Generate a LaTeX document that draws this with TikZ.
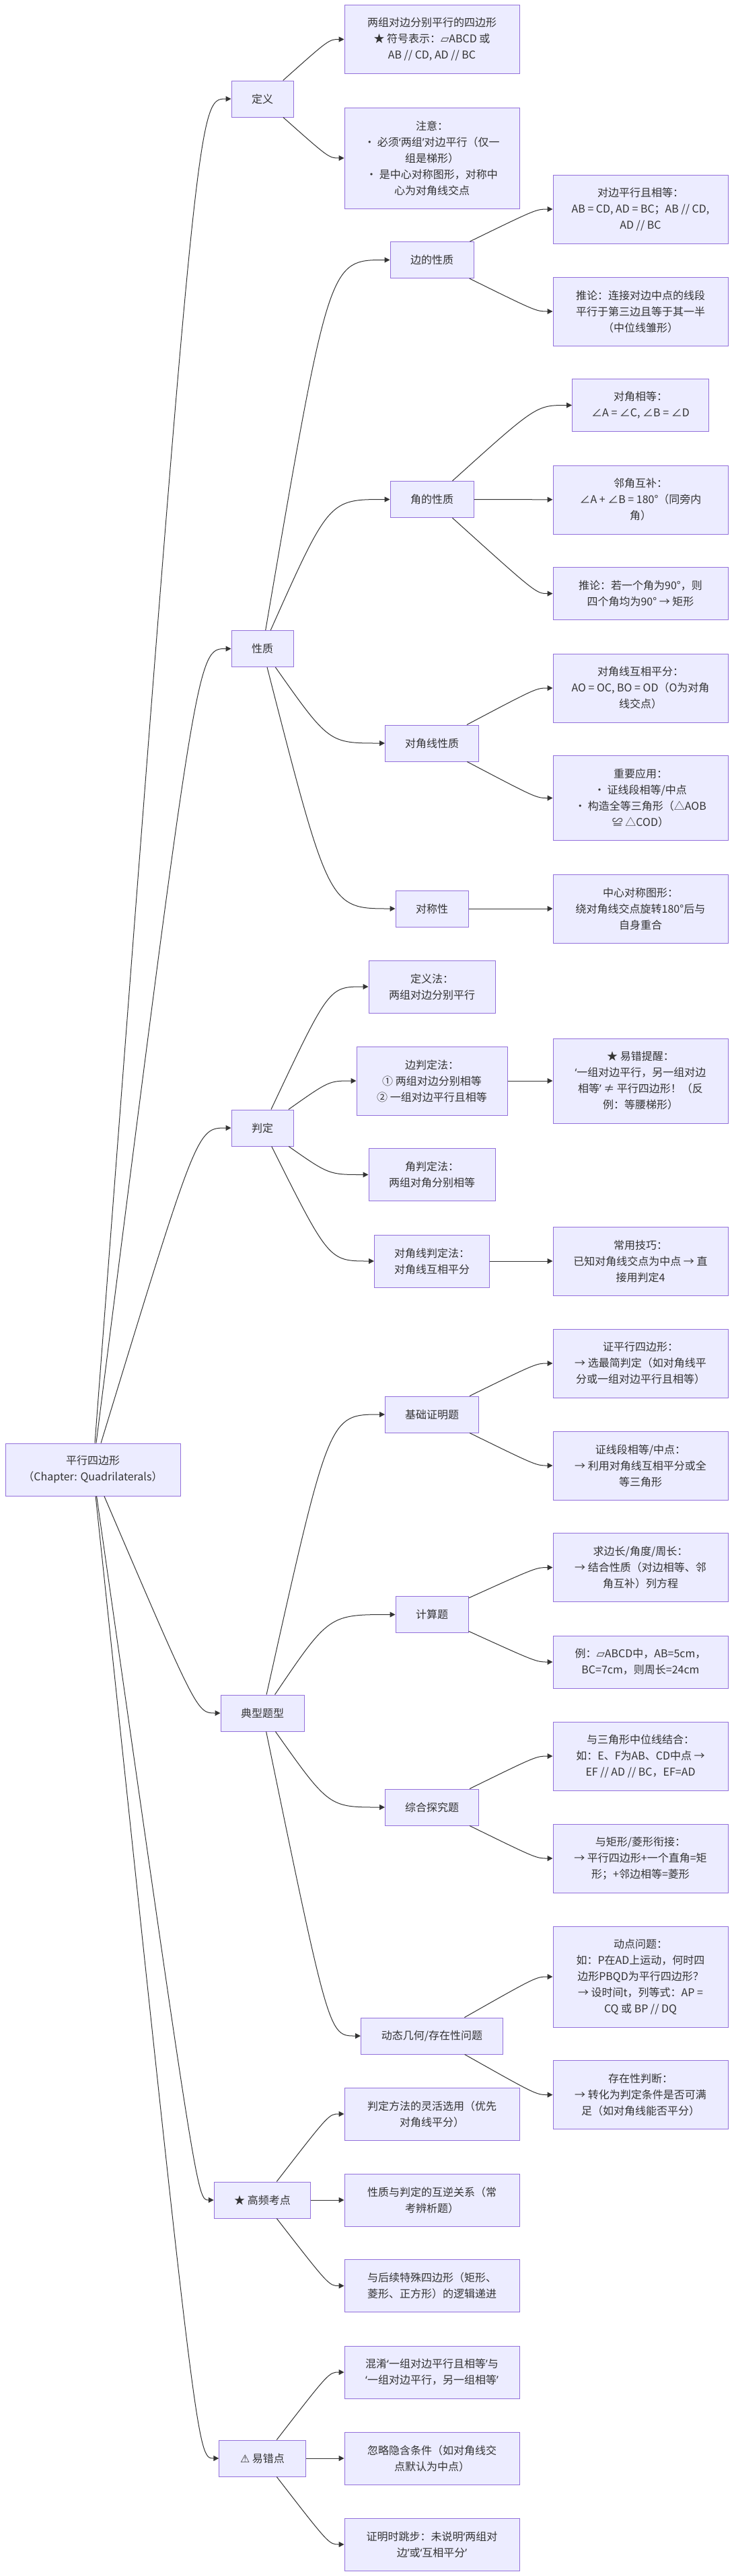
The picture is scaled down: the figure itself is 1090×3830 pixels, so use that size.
\documentclass[tikz,border=0pt]{standalone}
\usepackage{fontspec}
\setmainfont{Noto Sans CJK SC}
\newfontfamily\symfont{DejaVu Sans}
\newfontfamily\quotefont{Noto Sans}
\newcommand{\openq}{{\quotefont ‘}}
\newcommand{\closeq}{{\quotefont ’}}
\usetikzlibrary{arrows.meta}
\definecolor{boxfill}{HTML}{ECECFF}
\definecolor{boxline}{HTML}{9370DB}
\definecolor{linkgray}{HTML}{333333}

\begin{document}
\begin{tikzpicture}[x=1pt, y=-1pt,
block/.style={draw=boxline, fill=boxfill, line width=1pt, text=linkgray, align=center, inner xsep=15pt, inner ysep=0pt, minimum height=54pt, font=\fontsize{16}{24}\selectfont},
wide/.style={block, minimum width=260pt},
nlines/.style={minimum height=#1*24pt+30pt},
link/.style={draw=linkgray, line width=1pt, -{Triangle[length=8pt, width=8pt]}}]

% SIZE OF THE PICTURE
\fill[white] (0,0) rectangle (1090,3830);
% COLUMNS WHERE THE LINKS BEND
\coordinate (g0) at (293,0);
\coordinate (g1) at (489,0);
\coordinate (g2) at (797,0);

%%%%%%%%% ROOT %%%%%%%%%%%%%
\node[block, minimum width=260pt, nlines=2] (root) at (138,2185) {平行四边形\\（Chapter: Quadrilaterals）};

%%%%%%%%% DEFINITION %%%%%%%%%%%%%
\node[block, minimum width=92pt] (def) at (390,147) {定义};
\node[wide, nlines=3] (def1) at (642,58.5) {两组对边分别平行的四边形\\★ 符号表示：{\symfont ▱}ABCD 或\\AB // CD, AD // BC};
\node[wide, nlines=5] (def2) at (642,235) {注意：\\• 必须\openq 两组\closeq 对边平行（仅一\\组是梯形）\\• 是中心对称图形，对称中\\心为对角线交点};

%%%%%%%%% PROPERTIES %%%%%%%%%%%%%
\node[block, minimum width=92pt] (prop) at (390,964.5) {性质};
\node[block, minimum width=124pt] (side) at (642,386.5) {边的性质};
\node[wide, nlines=3] (side1) at (952,311) {对边平行且相等：\\AB = CD, AD = BC；AB // CD,\\AD // BC};
\node[wide, nlines=3] (side2) at (952,463) {推论：连接对边中点的线段\\平行于第三边且等于其一半\\（中位线雏形）};
\node[block, minimum width=124pt] (ang) at (642,742.5) {角的性质};
\node[block, minimum width=203pt, nlines=2] (ang1) at (952,602.5) {对角相等：\\∠A = ∠C, ∠B = ∠D};
\node[wide, nlines=3] (ang2) at (952,743) {邻角互补：\\∠A + ∠B = 180°（同旁内\\角）};
\node[wide, nlines=2] (ang3) at (952,882.5) {推论：若一个角为90°，则\\四个角均为90° → 矩形};
\node[block, minimum width=139pt] (diag) at (642,1105) {对角线性质};
\node[wide, nlines=3] (diag1) at (952,1023) {对角线互相平分：\\AO = OC, BO = OD（O为对角\\线交点）};
\node[wide, nlines=4] (diag2) at (952,1186.5) {重要应用：\\• 证线段相等/中点\\• 构造全等三角形（△AOB\\≌ △COD）};
\node[block, minimum width=108pt] (sym) at (642,1351) {对称性};
\node[wide, nlines=3] (sym1) at (952,1351) {中心对称图形：\\绕对角线交点旋转180°后与\\自身重合};

%%%%%%%%% CRITERIA %%%%%%%%%%%%%
\node[block, minimum width=92pt] (crit) at (390,1677) {判定};
\node[block, minimum width=188pt, nlines=2] (crit1) at (642,1467) {定义法：\\两组对边分别平行};
\node[block, minimum width=224pt, nlines=3] (crit2) at (642,1607) {边判定法：\\① 两组对边分别相等\\② 一组对边平行且相等};
\node[wide, nlines=4] (warn) at (952,1607) {★ 易错提醒：\\\openq 一组对边平行，另一组对边\\相等\closeq{} ≠ 平行四边形！（反\\例：等腰梯形）};
\node[block, minimum width=188pt, nlines=2] (crit3) at (642,1746.5) {角判定法：\\两组对角分别相等};
\node[block, minimum width=171pt, nlines=2] (crit4) at (642,1875) {对角线判定法：\\对角线互相平分};
\node[wide, nlines=3] (trick) at (952,1875) {常用技巧：\\已知对角线交点为中点 → 直\\接用判定4};

%%%%%%%%% TYPICAL PROBLEMS %%%%%%%%%%%%%
\node[block, minimum width=124pt] (typ) at (390,2547) {典型题型};
\node[block, minimum width=139pt] (proof) at (642,2103) {基础证明题};
\node[wide, nlines=3] (proof1) at (952,2027) {证平行四边形：\\→ 选最简判定（如对角线平\\分或一组对边平行且相等）};
\node[wide, nlines=3] (proof2) at (952,2179) {证线段相等/中点：\\→ 利用对角线互相平分或全\\等三角形};
\node[block, minimum width=108pt] (calc) at (642,2400.5) {计算题};
\node[wide, nlines=3] (calc1) at (952,2330.5) {求边长/角度/周长：\\→ 结合性质（对边相等、邻\\角互补）列方程};
\node[wide, nlines=2] (calc2) at (952,2471) {例：{\symfont ▱}ABCD中，AB=5cm，\\BC=7cm，则周长=24cm};
\node[block, minimum width=139pt] (mix) at (642,2687) {综合探究题};
\node[wide, nlines=3] (mix1) at (952,2611) {与三角形中位线结合：\\如：E、F为AB、CD中点 →\\EF // AD // BC，EF=AD};
\node[wide, nlines=3] (mix2) at (952,2763) {与矩形/菱形衔接：\\→ 平行四边形+一个直角=矩\\形；+邻边相等=菱形};
\node[block, minimum width=211pt] (dyn) at (642,3027) {动态几何/存在性问题};
\node[wide, nlines=5] (dyn1) at (952,2939) {动点问题：\\如：P在AD上运动，何时四\\边形PBQD为平行四边形？\\→ 设时间t，列等式：AP =\\CQ 或 BP // DQ};
\node[wide, nlines=3] (dyn2) at (952,3114.5) {存在性判断：\\→ 转化为判定条件是否可满\\足（如对角线能否平分）};

%%%%%%%%% KEY POINTS %%%%%%%%%%%%%
\node[block, minimum width=143.5pt] (key) at (390,3271) {★ 高频考点};
\node[wide, nlines=2] (key1) at (642,3143) {判定方法的灵活选用（优先\\对角线平分）};
\node[wide, nlines=2] (key2) at (642,3271) {性质与判定的互逆关系（常\\考辨析题）};
\node[wide, nlines=2] (key3) at (642,3398.5) {与后续特殊四边形（矩形、\\菱形、正方形）的逻辑递进};

%%%%%%%%% PITFALLS %%%%%%%%%%%%%
\node[block, minimum width=128.5pt] (pit) at (390,3655) {{\symfont ⚠} 易错点};
\node[wide, nlines=2] (pit1) at (642,3527) {混淆\openq 一组对边平行且相等\closeq 与\\\openq 一组对边平行，另一组相等\closeq};
\node[wide, nlines=2] (pit2) at (642,3655) {忽略隐含条件（如对角线交\\点默认为中点）};
\node[wide, nlines=2] (pit3) at (642,3783) {证明时跳步：未说明\openq 两组对\\边\closeq 或\openq 互相平分\closeq};

%%%%%%%%% LINKS %%%%%%%%%%%%%
% root to the topics
\draw[link] (root) .. controls (g0 |- def) .. (def.west);
\draw[link] (root) .. controls (g0 |- prop) .. (prop.west);
\draw[link] (root) .. controls (g0 |- crit) .. (crit.west);
\draw[link] (root) .. controls (g0 |- typ) .. (typ.west);
\draw[link] (root) .. controls (g0 |- key) .. (key.west);
\draw[link] (root) .. controls (g0 |- pit) .. (pit.west);
% definition
\draw[link] (def) .. controls (g1 |- def1) .. (def1.west);
\draw[link] (def) .. controls (g1 |- def2) .. (def2.west);
% properties
\draw[link] (prop) .. controls (g1 |- side) .. (side.west);
\draw[link] (prop) .. controls (g1 |- ang) .. (ang.west);
\draw[link] (prop) .. controls (g1 |- diag) .. (diag.west);
\draw[link] (prop) .. controls (g1 |- sym) .. (sym.west);
\draw[link] (side) .. controls (g2 |- side1) .. (side1.west);
\draw[link] (side) .. controls (g2 |- side2) .. (side2.west);
\draw[link] (ang) .. controls (g2 |- ang1) .. (ang1.west);
\draw[link] (ang) -- (ang2);
\draw[link] (ang) .. controls (g2 |- ang3) .. (ang3.west);
\draw[link] (diag) .. controls (g2 |- diag1) .. (diag1.west);
\draw[link] (diag) .. controls (g2 |- diag2) .. (diag2.west);
\draw[link] (sym) -- (sym1);
% criteria
\draw[link] (crit) .. controls (g1 |- crit1) .. (crit1.west);
\draw[link] (crit) .. controls (g1 |- crit2) .. (crit2.west);
\draw[link] (crit) .. controls (g1 |- crit3) .. (crit3.west);
\draw[link] (crit) .. controls (g1 |- crit4) .. (crit4.west);
\draw[link] (crit2) -- (warn);
\draw[link] (crit4) -- (trick);
% typical problems
\draw[link] (typ) .. controls (g1 |- proof) .. (proof.west);
\draw[link] (typ) .. controls (g1 |- calc) .. (calc.west);
\draw[link] (typ) .. controls (g1 |- mix) .. (mix.west);
\draw[link] (typ) .. controls (g1 |- dyn) .. (dyn.west);
\draw[link] (proof) .. controls (g2 |- proof1) .. (proof1.west);
\draw[link] (proof) .. controls (g2 |- proof2) .. (proof2.west);
\draw[link] (calc) .. controls (g2 |- calc1) .. (calc1.west);
\draw[link] (calc) .. controls (g2 |- calc2) .. (calc2.west);
\draw[link] (mix) .. controls (g2 |- mix1) .. (mix1.west);
\draw[link] (mix) .. controls (g2 |- mix2) .. (mix2.west);
\draw[link] (dyn) .. controls (g2 |- dyn1) .. (dyn1.west);
\draw[link] (dyn) .. controls (g2 |- dyn2) .. (dyn2.west);
% key points
\draw[link] (key) .. controls (g1 |- key1) .. (key1.west);
\draw[link] (key) -- (key2);
\draw[link] (key) .. controls (g1 |- key3) .. (key3.west);
% pitfalls
\draw[link] (pit) .. controls (g1 |- pit1) .. (pit1.west);
\draw[link] (pit) -- (pit2);
\draw[link] (pit) .. controls (g1 |- pit3) .. (pit3.west);
\end{tikzpicture}
\end{document}
